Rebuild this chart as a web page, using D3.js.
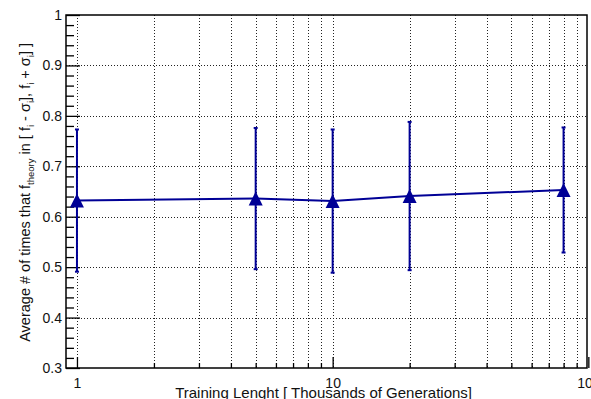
<!DOCTYPE html>
<html>
<head>
<meta charset="utf-8">
<script src="https://cdn.jsdelivr.net/npm/d3@7"></script>
<style>
  html, body { margin: 0; padding: 0; background: #fff; }
  svg { display: block; font-family: "Liberation Sans", Arial, Helvetica, sans-serif; }
</style>
</head>
<body>
<svg id="chart" width="591" height="399"></svg>
<script>
// Training length in thousands of generations
const trainingLength = [1, 5, 10, 20, 80];
// Average fraction of times f_theory falls inside [f_i - sigma_i, f_i + sigma_i]
const meanFraction = [0.632, 0.636, 0.631, 0.641, 0.653];
// Symmetric uncertainty on each average
const fractionError = [0.141, 0.140, 0.142, 0.147, 0.124];

const xTickValues = [1, 10, 100];
const xTickLabels = ["1", "10", "100"];
const yTickValues = [0.3, 0.4, 0.5, 0.6, 0.7, 0.8, 0.9, 1.0];
const yTickLabels = ["0.3", "0.4", "0.5", "0.6", "0.7", "0.8", "0.9", "1"];

const frame = { left: 66, right: 587, top: 15, bottom: 368 };
const markColor = "#000096";
const labelFont = "Liberation Sans, Arial, sans-serif";

const svg = d3.select("#chart");

const x = d3.scaleLog().domain([0.906, 98.8]).range([frame.left, frame.right]);
const y = d3.scaleLinear().domain([0.3, 1.0]).range([frame.bottom, frame.top]);

// log-decade minor positions (2..9 per decade) inside the domain
const xMinor = [];
[1, 10].forEach(d => { for (let k = 2; k <= 9; k++) xMinor.push(d * k); });
const yMinor = d3.range(0.32, 1.0, 0.02).filter(v => Math.abs(Math.round(v * 10) - v * 10) > 1e-6);

const g = svg.append("g");

// dotted grid at every major and minor x position, major y values
const grid = g.append("g")
  .attr("stroke", "#222")
  .attr("stroke-width", 1)
  .attr("stroke-dasharray", "1,2")
  .attr("shape-rendering", "crispEdges");
xTickValues.concat(xMinor).filter(v => x(v) > frame.left + 1 && x(v) < frame.right - 1).forEach(v => {
  grid.append("line")
    .attr("x1", Math.round(x(v)) + 0.5).attr("x2", Math.round(x(v)) + 0.5)
    .attr("y1", frame.top).attr("y2", frame.bottom);
});
yTickValues.filter(v => y(v) > frame.top + 1 && y(v) < frame.bottom - 1).forEach(v => {
  grid.append("line")
    .attr("x1", frame.left).attr("x2", frame.right)
    .attr("y1", Math.round(y(v)) + 0.5).attr("y2", Math.round(y(v)) + 0.5);
});

// frame
g.append("rect")
  .attr("x", frame.left).attr("y", frame.top)
  .attr("width", frame.right - frame.left).attr("height", frame.bottom - frame.top)
  .attr("fill", "none").attr("stroke", "#000").attr("stroke-width", 1.5);

// axes: ticks drawn inward, labels outside
const xAxis = d3.axisBottom(x)
  .tickValues(xTickValues)
  .tickFormat((d, i) => xTickLabels[i])
  .tickSize(-11).tickPadding(10);
const xAx = g.append("g").attr("transform", `translate(0,${frame.bottom})`).call(xAxis);
xAx.select(".domain").remove();
xAx.selectAll(".tick line").attr("stroke", "#000").attr("stroke-width", 1.3);
xAx.selectAll(".tick text").attr("font-size", 14).attr("fill", "#111")
  .attr("font-family", labelFont);

const xMinorAxis = d3.axisBottom(x).tickValues(xMinor).tickFormat("").tickSize(-5);
const xMin = g.append("g").attr("transform", `translate(0,${frame.bottom})`).call(xMinorAxis);
xMin.select(".domain").remove();
xMin.selectAll(".tick line").attr("stroke", "#000").attr("stroke-width", 1.3);

const yAxis = d3.axisLeft(y)
  .tickValues(yTickValues)
  .tickFormat((d, i) => yTickLabels[i])
  .tickSize(-14).tickPadding(4);
const yAx = g.append("g").attr("transform", `translate(${frame.left},0)`).call(yAxis);
yAx.select(".domain").remove();
yAx.selectAll(".tick line").attr("stroke", "#000").attr("stroke-width", 1.3);
yAx.selectAll(".tick text").attr("font-size", 14).attr("fill", "#111")
  .attr("font-family", labelFont);

const yMinorAxis = d3.axisLeft(y).tickValues(yMinor).tickFormat("").tickSize(-8);
const yMin = g.append("g").attr("transform", `translate(${frame.left},0)`).call(yMinorAxis);
yMin.select(".domain").remove();
yMin.selectAll(".tick line").attr("stroke", "#000").attr("stroke-width", 1.3);

// data
const pts = trainingLength.map((t, i) => ({ t, v: meanFraction[i], e: fractionError[i] }));

const plot = g.append("g");

// error bars with small caps
pts.forEach(p => {
  const cx = x(p.t);
  plot.append("line")
    .attr("x1", cx).attr("x2", cx)
    .attr("y1", y(p.v + p.e)).attr("y2", y(p.v - p.e))
    .attr("stroke", markColor).attr("stroke-width", 2);
  [p.v + p.e, p.v - p.e].forEach(b => {
    plot.append("line")
      .attr("x1", cx - 2).attr("x2", cx + 2)
      .attr("y1", y(b)).attr("y2", y(b))
      .attr("stroke", markColor).attr("stroke-width", 2);
  });
});

// connecting line
plot.append("path")
  .datum(pts)
  .attr("fill", "none")
  .attr("stroke", markColor)
  .attr("stroke-width", 2)
  .attr("d", d3.line().x(d => x(d.t)).y(d => y(d.v)));

// triangle markers
plot.selectAll("path.marker")
  .data(pts)
  .join("path")
  .attr("class", "marker")
  .attr("fill", markColor)
  .attr("d", d => {
    const cx = x(d.t), cy = y(d.v), w = 7, h = 7;
    return `M${cx - w},${cy + h}L${cx + w},${cy + h}L${cx},${cy - h}Z`;
  });

// x title
svg.append("text")
  .attr("x", 472).attr("y", 398)
  .attr("text-anchor", "end")
  .attr("font-size", 15)
  .attr("fill", "#111")
  .text("Training Lenght [ Thousands of Generations]");

// y title with subscripts
const yt = svg.append("text")
  .attr("transform", "translate(30,43) rotate(-90)")
  .attr("text-anchor", "end")
  .attr("font-size", 14.5)
  .attr("fill", "#111");
const parts = [
  ["Average # of times that f", false],
  ["theory", true],
  [" in [ f", false],
  ["i", true],
  [" - σ", false],
  ["i", true],
  ["], f", false],
  ["i", true],
  [" + σ", false],
  ["i", true],
  ["] ]", false]
];
parts.forEach(([s, sub], i) => {
  const ts = yt.append("tspan").text(s);
  if (sub) ts.attr("font-size", 9.5).attr("dy", 4);
  else if (i > 0 && parts[i - 1][1]) ts.attr("dy", -4);
});
</script>
</body>
</html>
